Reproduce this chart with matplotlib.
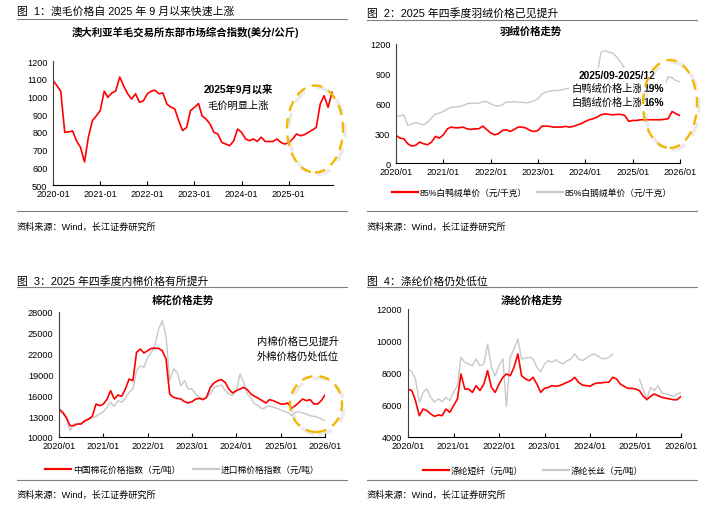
import numpy as np
import pandas as pd
import matplotlib
matplotlib.use("Agg")
import matplotlib.pyplot as plt
import matplotlib.dates as mdates
from matplotlib.patches import Ellipse
from matplotlib.lines import Line2D

plt.rcParams['font.family'] = ['Liberation Sans', 'Noto Sans CJK SC']
plt.rcParams['axes.unicode_minus'] = False

# ---- data (monthly) ----
months = pd.date_range('2020-01-01', '2026-01-01', freq='MS')

wool_index = [1090, 1060, 1030, 797, 800, 805, 750, 713, 630, 770, 863, 890,
              920, 1030, 995, 1020, 1030, 1110, 1060, 1015, 985, 1015, 967, 975,
              1015, 1030, 1035, 1015, 1020, 957, 940, 930, 863, 807, 825, 920,
              938, 960, 890, 872, 845, 797, 788, 740, 731, 722, 750, 816,
              797, 760, 750, 760, 746, 770, 746, 745, 746, 760, 740, 731,
              740, 760, 788, 778, 784, 797, 810, 825, 957, 1004, 938, 1023]

duck_down = [278, 251, 245, 194, 171, 178, 211, 194, 184, 211, 268, 251,
             285, 345, 362, 355, 355, 362, 345, 338, 345, 345, 372, 338,
             302, 285, 295, 328, 335, 318, 338, 362, 362, 352, 328, 318,
             328, 372, 372, 369, 362, 362, 362, 369, 362, 369, 385, 396,
             419, 436, 446, 463, 486, 496, 490, 486, 490, 490, 479, 420,
             429, 429, 436, 436, 436, 436, 436, 436, 440, 446, 520, 496,
             479]

goose_down = [479, 473, 486, 379, 396, 406, 396, 385, 412, 452, 496, 503,
              520, 546, 563, 563, 570, 580, 597, 603, 603, 603, 620, 620,
              597, 580, 573, 587, 613, 613, 620, 613, 613, 607, 613, 630,
              647, 697, 714, 724, 731, 731, 737, 748, 754, 764, 774, 788,
              815, 831, 848, 898, 1116, 1133, 1116, 1110, 1066, 1016, 949, 898,
              831, 800, 790, 780, 770, 770, 770, 770, 760, 870, 860, 830,
              820]

cotton_cn = [14030, 13550, 12830, 11630, 11630, 11870, 11870, 12350, 12590, 12980, 14750, 14510,
             14750, 15470, 16670, 15470, 16050, 15860, 16910, 18350, 18110, 22190, 22670, 22100,
             22430, 22770, 22770, 22770, 22430, 21230, 16190, 15710, 15570, 15470, 15090, 14900,
             15090, 15470, 15570, 15380, 15710, 17150, 17780, 18110, 18260, 17870, 16910, 16340,
             16670, 16910, 17150, 16820, 16190, 15860, 15570, 15230, 14900, 15380, 15230, 14990,
             14750, 14750, 14900, 14130, 14510, 14990, 15470, 15230, 15380, 14750, 14750, 15230,
             16050]

cotton_import = [13790, 13310, 12590, 10910, 11870, 11870, 12020, 12210, 12500, 12690, 12980, 13310,
                 13650, 14270, 15000, 14420, 15230, 15000, 15570, 16430, 16910, 19550, 20270, 20030,
                 21470, 22190, 23150, 25550, 26750, 24590, 18110, 19790, 19310, 17390, 18110, 16910,
                 16910, 16190, 15710, 15470, 15710, 16190, 17150, 17300, 17490, 16670, 16190, 15950,
                 16670, 19070, 17870, 16190, 15570, 14750, 14510, 14030, 14270, 14510, 14270, 14130,
                 13890, 13650, 13550, 13070, 13550, 13650, 13460, 13310, 13070, 12980, 12830, 12590,
                 12350]

psf = [7000, 6900, 6270, 5330, 5750, 5650, 5440, 5290, 5380, 5330, 5750, 5540,
       5960, 6380, 7940, 7000, 7000, 6790, 7210, 6900, 7310, 8150, 7100, 6790,
       7310, 7730, 7940, 7830, 8350, 9190, 7830, 7630, 7520, 7730, 7310, 6790,
       7040, 7100, 7210, 7170, 7210, 7310, 7420, 7520, 7730, 7420, 7250, 7210,
       7170, 7310, 7380, 7380, 7420, 7420, 7730, 7630, 7310, 7170, 7040, 7040,
       7000, 6900, 6580, 6330, 6540, 6690, 6580, 6480, 6420, 6380, 6330, 6330,
       6540]

pfy = [8250, 8080, 7630, 6170, 6790, 7000, 6480, 6170, 6380, 6210, 6480, 6270,
       6790, 7210, 8980, 8670, 8560, 8460, 8880, 8460, 8560, 9810, 8350, 7830,
       8460, 8880, 5900, 8980, 9500, 10125, 8880, 8920, 8980, 8880, 8350, 8080,
       8560, 8770, 8670, 8830, 8670, 8560, 8770, 8880, 9190, 8880, 8770, 8920,
       9080, 9190, 9080, 8920, 8880, 8980, 9190, np.nan, np.nan, np.nan, np.nan, np.nan,
       np.nan, 7630, 7000, 6380, 7100, 6900, 7210, 6750, 6690, 6630, 6540, 6690,
       6790]

W, H = 727, 506
RED = '#FF0000'
GRAY = '#C8C8C8'
GOLD = '#F2B705'

fig = plt.figure(figsize=(W / 100, H / 100), dpi=100)


def fx(x):
    return x / W


def fy(y):
    return 1 - y / H


def make_axes(l, r, t, b, ylim, yticks, datefmt, xend):
    ax = fig.add_axes([fx(l), fy(b), (r - l) / W, (b - t) / H])
    ax.set_ylim(*ylim)
    ax.set_yticks(yticks)
    ax.set_xlim(months[0], xend)
    ax.xaxis.set_major_locator(mdates.MonthLocator(bymonth=1))
    ax.xaxis.set_major_formatter(mdates.DateFormatter(datefmt))
    for s in ['top', 'right']:
        ax.spines[s].set_visible(False)
    ax.spines['left'].set_color('#404040')
    ax.spines['bottom'].set_color('black')
    ax.spines['left'].set_linewidth(0.8)
    ax.spines['bottom'].set_linewidth(0.8)
    ax.tick_params(axis='x', direction='in', length=3, width=0.8, pad=3, labelsize=6.6)
    ax.tick_params(axis='y', length=0, pad=4, labelsize=6.6)
    ax.patch.set_alpha(0)
    return ax


def frame(x0, x1, ty, ly, by, sy, header, sub, sx):
    fig.text(fx(x0), fy(ty), header, fontsize=7.8, va='center', ha='left')
    fig.add_artist(Line2D([fx(x0), fx(x1)], [fy(ly), fy(ly)], transform=fig.transFigure,
                          color='#7f7f7f', lw=0.8))
    fig.add_artist(Line2D([fx(x0), fx(x1)], [fy(by), fy(by)], transform=fig.transFigure,
                          color='#7f7f7f', lw=0.8))
    fig.text(fx(x0), fy(sy), '资料来源：Wind，长江证券研究所', fontsize=6.6, va='center', ha='left')
    fig.text(fx(sx[0]), fy(sx[1]), sub, fontsize=7.5, fontweight='bold', va='center', ha='center')


def legend_item(x, y, color, label):
    fig.add_artist(Line2D([fx(x), fx(x + 26)], [fy(y), fy(y)], transform=fig.transFigure,
                          color=color, lw=1.6))
    fig.text(fx(x + 28), fy(y), label, fontsize=6.3, va='center', ha='left')


def ring(cx, cy, w, h):
    shadow = Ellipse((fx(cx + 2), fy(cy + 2)), w / W, h / H, transform=fig.transFigure,
                     fill=False, ec='#c8c8c8', lw=2.6, ls=(0, (4, 3)), alpha=0.35, zorder=5)
    e = Ellipse((fx(cx), fy(cy)), w / W, h / H, transform=fig.transFigure,
                fill=False, ec=GOLD, lw=1.7, ls=(0, (4.5, 3)), zorder=6)
    fig.add_artist(shadow)
    fig.add_artist(e)


# ---- panel 1: wool ----
frame(17, 347, 12, 20, 212, 227, '图  1：澳毛价格自 2025 年 9 月以来快速上涨',
      '澳大利亚羊毛交易所东部市场综合指数(美分/公斤)', (185, 32))
ax1 = make_axes(53, 333, 62, 186, (500, 1200), range(500, 1201, 100), '%Y-%m',
                months[71] + pd.Timedelta(days=8))
ax1.plot(months[:72], wool_index, color=RED, lw=1.2)
fig.text(fx(238), fy(90), '2025年9月以来', fontsize=7.4, fontweight='bold', ha='center', va='center')
fig.text(fx(238), fy(106), '毛价明显上涨', fontsize=7.4, ha='center', va='center')
ring(315, 130, 56, 87)

# ---- panel 2: down ----
frame(367, 697, 13, 21, 212, 227, '图  2：2025 年四季度羽绒价格已见提升', '羽绒价格走势', (531, 32))
ax2 = make_axes(396, 680, 45, 164, (0, 1200), range(0, 1201, 300), '%Y/%m', months[-1])
ax2.plot(months, goose_down, color=GRAY, lw=1.0)
ax2.plot(months, duck_down, color=RED, lw=1.2)
box = dict(facecolor='white', edgecolor='none', pad=1.5)
fig.text(fx(617), fy(76), '2025/09-2025/12', fontsize=7.4, fontweight='bold',
         ha='center', va='center', bbox=box)
fig.text(fx(643), fy(89), '白鸭绒价格上涨', fontsize=7.4, ha='right', va='center', bbox=box)
fig.text(fx(643), fy(89), '19%', fontsize=7.4, fontweight='bold', ha='left', va='center', bbox=box)
fig.text(fx(643), fy(103), '白鹅绒价格上涨', fontsize=7.4, ha='right', va='center', bbox=box)
fig.text(fx(643), fy(103), '16%', fontsize=7.4, fontweight='bold', ha='left', va='center', bbox=box)
ring(670, 105, 54, 88)
legend_item(392, 193, RED, '85%白鸭绒单价（元/千克）')
legend_item(537, 193, GRAY, '85%白鹅绒单价（元/千克）')

# ---- panel 3: cotton ----
frame(17, 347, 281, 288, 481, 495, '图  3：2025 年四季度内棉价格有所提升', '棉花价格走势', (183, 301))
ax3 = make_axes(59, 325, 313, 438, (10000, 28000), range(10000, 28001, 3000), '%Y/%m', months[-1])
ax3.plot(months, cotton_import, color=GRAY, lw=1.0)
ax3.plot(months, cotton_cn, color=RED, lw=1.2)
fig.text(fx(298), fy(342), '内棉价格已见提升', fontsize=7.4, ha='center', va='center')
fig.text(fx(298), fy(357), '外棉价格仍处低位', fontsize=7.4, ha='center', va='center')
ring(316, 405, 52, 56)
legend_item(45, 470, RED, '中国棉花价格指数（元/吨）')
legend_item(193, 470, GRAY, '进口棉价格指数（元/吨）')

# ---- panel 4: polyester ----
frame(367, 697, 282, 288, 481, 495, '图  4：涤纶价格仍处低位', '涤纶价格走势', (532, 301))
ax4 = make_axes(408, 681, 310, 438, (4000, 12000), range(4000, 12001, 2000), '%Y/%m', months[-1])
ax4.plot(months, pfy, color=GRAY, lw=1.0)
ax4.plot(months, psf, color=RED, lw=1.2)
legend_item(423, 471, RED, '涤纶短纤（元/吨）')
legend_item(543, 471, GRAY, '涤纶长丝（元/吨）')

fig.savefig('out.png', dpi=100)
